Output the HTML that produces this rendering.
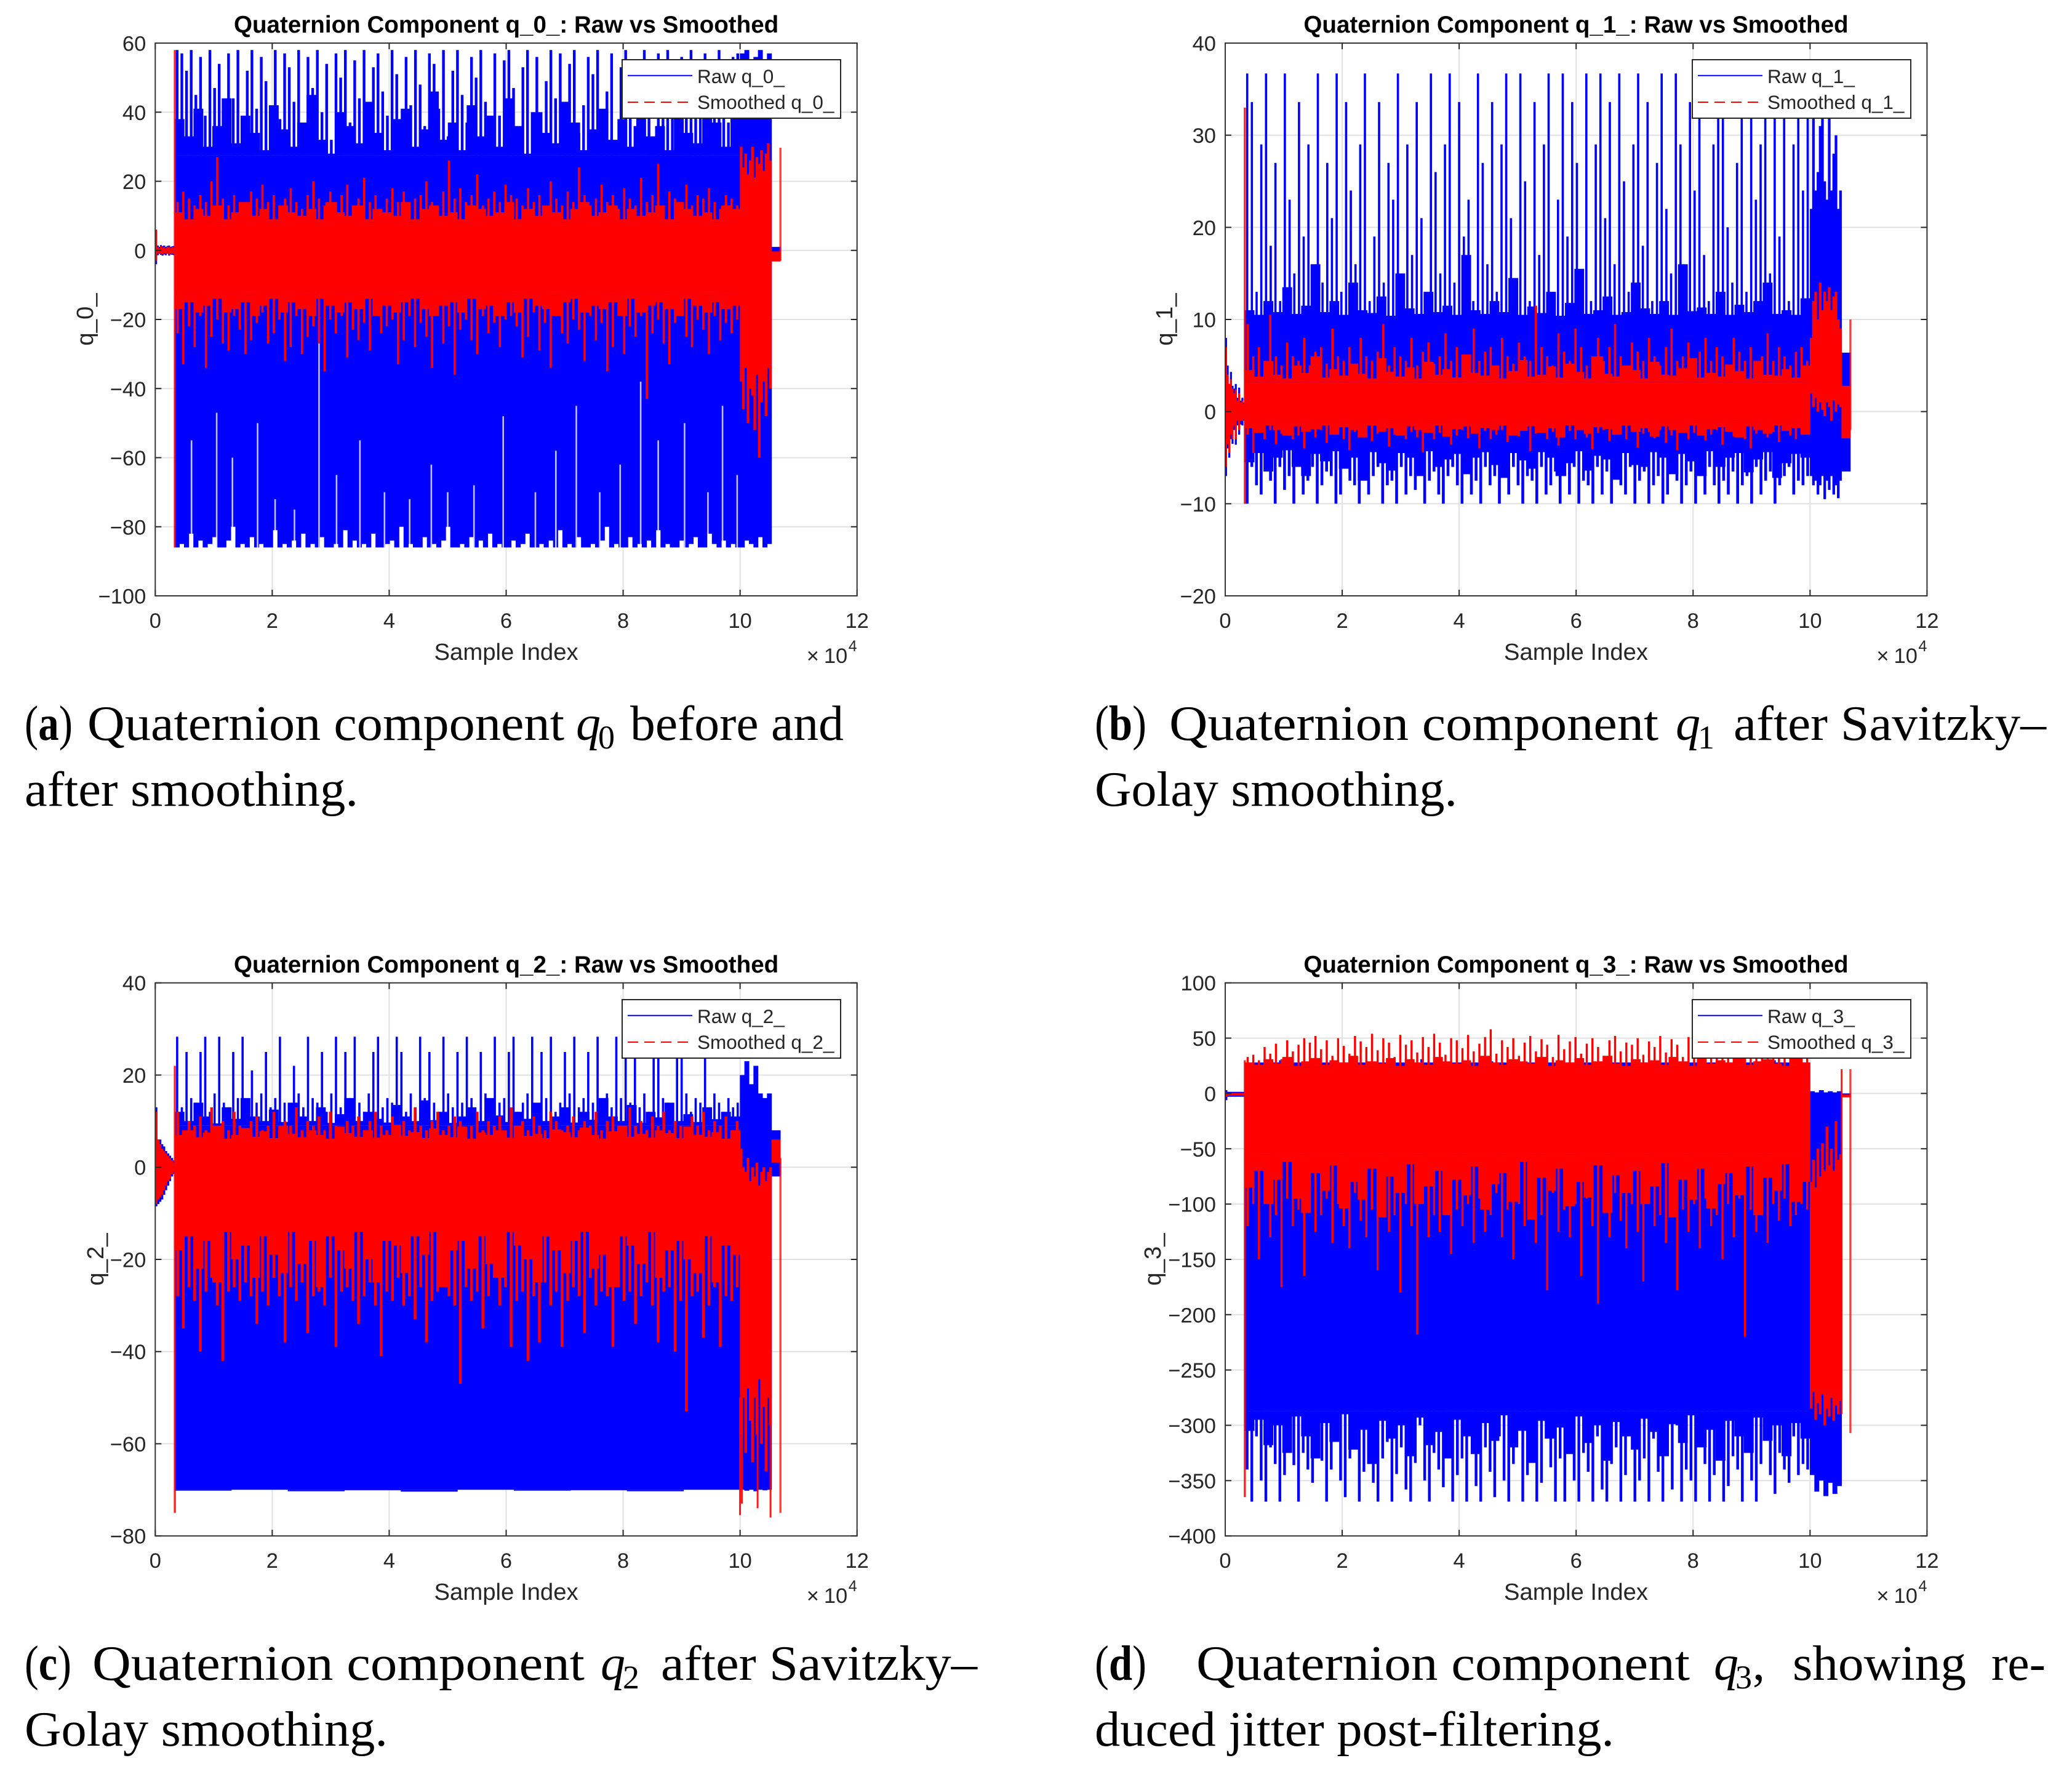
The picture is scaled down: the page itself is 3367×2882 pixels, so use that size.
<!DOCTYPE html>
<html lang="en">
<head>
<meta charset="utf-8">
<title>Quaternion components: raw vs smoothed</title>
<style>
html,body{margin:0;padding:0;background:#fff;width:3367px;height:2882px;overflow:hidden}
svg{position:absolute;left:0;top:0;display:block}
.sans{font-family:"Liberation Sans",Arial,sans-serif;fill:#262626}
.title{font-family:"Liberation Sans",Arial,sans-serif;font-size:38.6px;font-weight:bold;fill:#000;text-anchor:middle}
.axlab{font-size:38.3px;text-anchor:middle}
.leg{font-size:31.5px}
.cap{font-family:"Liberation Serif","Times New Roman",serif;font-size:80px;fill:#000}
.capi{font-family:"Liberation Serif","Times New Roman",serif;font-size:80px;font-style:italic;fill:#000}
.capsub{font-family:"Liberation Serif","Times New Roman",serif;font-size:54px;fill:#000}
</style>
</head>
<body>
<svg xmlns="http://www.w3.org/2000/svg" width="3367" height="2882" viewBox="0 0 3367 2882">

<g>
  <text class="title" x="822.6" y="53">Quaternion Component q_0_: Raw vs Smoothed</text>
  <g id="plot-q0"></g>
  <text class="sans axlab" x="822.6" y="1072">Sample Index</text>
  <text class="sans axlab" x="151" y="519" transform="rotate(-90 151 519)">q_0_</text>
  <g>
    <rect x="1011" y="97" width="355" height="95" fill="#fff" stroke="#262626" stroke-width="2"/>
    <line x1="1020" x2="1125" y1="122.7" y2="122.7" stroke="#0000ff" stroke-width="2"/>
    <line x1="1020" x2="1125" y1="166" y2="166" stroke="#ff0000" stroke-width="2" stroke-dasharray="17 10"/>
    <text class="sans leg" x="1133" y="135">Raw q_0_</text>
    <text class="sans leg" x="1133" y="177">Smoothed q_0_</text>
  </g>
</g>

<g>
  <text class="title" x="2561" y="53">Quaternion Component q_1_: Raw vs Smoothed</text>
  <g id="plot-q1"></g>
  <text class="sans axlab" x="2561" y="1072">Sample Index</text>
  <text class="sans axlab" x="1905" y="519" transform="rotate(-90 1905 519)">q_1_</text>
  <g>
    <rect x="2750" y="97" width="355" height="95" fill="#fff" stroke="#262626" stroke-width="2"/>
    <line x1="2759" x2="2864" y1="122.7" y2="122.7" stroke="#0000ff" stroke-width="2"/>
    <line x1="2759" x2="2864" y1="166" y2="166" stroke="#ff0000" stroke-width="2" stroke-dasharray="17 10"/>
    <text class="sans leg" x="2872" y="135">Raw q_1_</text>
    <text class="sans leg" x="2872" y="177">Smoothed q_1_</text>
  </g>
</g>

<g>
  <text class="title" x="822.6" y="1580">Quaternion Component q_2_: Raw vs Smoothed</text>
  <g id="plot-q2"></g>
  <text class="sans axlab" x="822.6" y="2599">Sample Index</text>
  <text class="sans axlab" x="168" y="2046" transform="rotate(-90 168 2046)">q_2_</text>
  <g>
    <rect x="1011" y="1624" width="355" height="95" fill="#fff" stroke="#262626" stroke-width="2"/>
    <line x1="1020" x2="1125" y1="1649.7" y2="1649.7" stroke="#0000ff" stroke-width="2"/>
    <line x1="1020" x2="1125" y1="1693" y2="1693" stroke="#ff0000" stroke-width="2" stroke-dasharray="17 10"/>
    <text class="sans leg" x="1133" y="1662">Raw q_2_</text>
    <text class="sans leg" x="1133" y="1704">Smoothed q_2_</text>
  </g>
</g>

<g>
  <text class="title" x="2561" y="1580">Quaternion Component q_3_: Raw vs Smoothed</text>
  <g id="plot-q3"></g>
  <text class="sans axlab" x="2561" y="2599">Sample Index</text>
  <text class="sans axlab" x="1886" y="2046" transform="rotate(-90 1886 2046)">q_3_</text>
  <g>
    <rect x="2750" y="1624" width="355" height="95" fill="#fff" stroke="#262626" stroke-width="2"/>
    <line x1="2759" x2="2864" y1="1649.7" y2="1649.7" stroke="#0000ff" stroke-width="2"/>
    <line x1="2759" x2="2864" y1="1693" y2="1693" stroke="#ff0000" stroke-width="2" stroke-dasharray="17 10"/>
    <text class="sans leg" x="2872" y="1662">Raw q_3_</text>
    <text class="sans leg" x="2872" y="1704">Smoothed q_3_</text>
  </g>
</g>

<g>
  <text class="cap" x="40" y="1202" textLength="78" lengthAdjust="spacingAndGlyphs">(<tspan font-weight="bold">a</tspan>)</text>
  <text class="cap" x="142" y="1202" textLength="775" lengthAdjust="spacingAndGlyphs">Quaternion component</text>
  <text class="capi" x="936" y="1202">q</text>
  <text class="capsub" x="972" y="1216">0</text>
  <text class="cap" x="1024" y="1202" textLength="347" lengthAdjust="spacingAndGlyphs">before and</text>
  <text class="cap" x="40" y="1309" textLength="542" lengthAdjust="spacingAndGlyphs">after smoothing.</text>
</g>
<g>
  <text class="cap" x="1779" y="1202" textLength="84" lengthAdjust="spacingAndGlyphs">(<tspan font-weight="bold">b</tspan>)</text>
  <text class="cap" x="1900" y="1202" textLength="795" lengthAdjust="spacingAndGlyphs">Quaternion component</text>
  <text class="capi" x="2723" y="1202">q</text>
  <text class="capsub" x="2759" y="1216">1</text>
  <text class="cap" x="2817" y="1202" textLength="508" lengthAdjust="spacingAndGlyphs">after Savitzky–</text>
  <text class="cap" x="1779" y="1309" textLength="589" lengthAdjust="spacingAndGlyphs">Golay smoothing.</text>
</g>
<g>
  <text class="cap" x="40" y="2729" textLength="76" lengthAdjust="spacingAndGlyphs">(<tspan font-weight="bold">c</tspan>)</text>
  <text class="cap" x="150" y="2729" textLength="800" lengthAdjust="spacingAndGlyphs">Quaternion component</text>
  <text class="capi" x="976" y="2729">q</text>
  <text class="capsub" x="1012" y="2743">2</text>
  <text class="cap" x="1074" y="2729" textLength="514" lengthAdjust="spacingAndGlyphs">after Savitzky–</text>
  <text class="cap" x="40" y="2836" textLength="590" lengthAdjust="spacingAndGlyphs">Golay smoothing.</text>
</g>
<g>
  <text class="cap" x="1779" y="2729" textLength="84" lengthAdjust="spacingAndGlyphs">(<tspan font-weight="bold">d</tspan>)</text>
  <text class="cap" x="1944" y="2729" textLength="802" lengthAdjust="spacingAndGlyphs">Quaternion component</text>
  <text class="capi" x="2785" y="2729">q</text>
  <text class="capsub" x="2820" y="2743">3</text>
  <text class="cap" x="2848" y="2729">,</text>
  <text class="cap" x="2913" y="2729" textLength="282" lengthAdjust="spacingAndGlyphs">showing</text>
  <text class="cap" x="3236" y="2729" textLength="88" lengthAdjust="spacingAndGlyphs">re-</text>
  <text class="cap" x="1779" y="2836" textLength="844" lengthAdjust="spacingAndGlyphs">duced jitter post-filtering.</text>
</g>
</svg>

<script>
/* Shared axis values (x in units of 10^4 samples) */
const xTicks = [0, 2, 4, 6, 8, 10, 12];
const sampleBreaks = [0, 0.335, 10, 10.54, 10.69];

/* ---------- q_0_ ---------- */
const q0YTicks = [-100, -80, -60, -40, -20, 0, 20, 40, 60];
const q0StartRawHi = [6, 1.4, 1, 1.5, 1.2, 1.4, 1, 1.3, 1.4, 1, 1.2, 1.3];
const q0StartRawLo = [-4, -1.4, -1, -1.3, -1.5, -1.2, -1.4, -1, -1.5, -1.2, -1.3, -1.4];
const q0StartSmoothHi = [6, 1, 0.6, 1.2, 0.8, 1, 0.6, 1, 1.1, 0.7, 1, 0.9];
const q0StartSmoothLo = [-3, -1, -0.7, -1, -1.2, -0.8, -1, -0.7, -1.2, -0.9, -1, -1];
const q0RawCore = [27.5, -20];
const q0RawUpper = [58,57,52,58,45,56,39,58,47,54,33,57,44,58,36,52,58,41,56,49,31,58,38,57,53,43,58,35,56,47,58,40,54,32,57,50,58,37,55,44,58,34,53,57,46,39,58,51,30,56,42,58,48,36,57,54,41,58,33,52,58,45,37,56,50,58,43,31,57,39,55,58,47,35,53,58,40,56,32,49,58,44,57,37,54,58,34,42,56,51,58,38,46,57,31,53,58,43,36,55,58,48,33,57,41,58,52,35,56,45,58,39,54,57,32,47,58,50,37,56,57];
const q0RawMidUp = [38,33,41,30,36,44,31,39,34,29,42,35,30,37,45,32,28,40,36,31,43,34,29,38,41,30,35,46,32,37,29,42,33,39,30,44,36,28,40,34,31,43,37,29,35,41,32,38,30,45,33,36,29,42,34,31,39,37,30,40];
const q0RawLower = [-86,-85,-86,-82,-86,-84,-86,-85,-83,-86,-86,-84,-80,-86,-85,-86,-83,-86,-85,-86,-86,-81,-86,-85,-86,-84,-86,-82,-86,-85,-86,-83,-86,-86,-85,-86,-81,-86,-84,-86,-85,-86,-82,-86,-86,-85,-84,-86,-80,-86,-85,-86,-86,-83,-86,-85,-86,-84,-80,-86,-86,-85,-86,-83,-86,-84,-86,-82,-86,-85,-86,-86,-84,-86,-85,-82,-86,-86,-85,-86,-84,-86,-81,-86,-85,-86,-83,-86,-86,-85,-86,-84,-80,-86,-85,-86,-86,-83,-86,-85,-86,-84,-86,-81,-86,-85,-86,-86,-84,-86,-85,-83,-86,-86,-82,-85,-86,-84,-86,-85,-86];
const q0GapIndex = [0.62,1.05,1.32,1.75,2.05,2.38,2.8,3.1,3.5,3.92,4.35,4.72,5.0,5.45,5.95,6.5,6.85,7.2,7.6,7.95,8.3,8.6,9.05,9.45,9.7,9.95];
const q0GapTop = [-55,-47,-60,-50,-72,-75,-4,-65,-55,-70,-72,-62,-70,-68,-48,-70,-58,-45,-70,-62,-38,-55,-50,-70,-45,-65];
const q0SmoothCore = [8, -13];
const q0SmoothUpper = [14,17,15,13,16,14,20,27,15,13,16,14,12,17,15,19,14,16,13,15,18,14,12,16,20,15,13,17,14,16,19,13,15,21,14,16,12,15,18,14,17,13,15,16,20,14,13,17,26,15,18,14,16,22,13,15,17,14,19,16,15,13,18,14,16,12,20,15,13,17,14,24,16,13,15,19,14,16,12,18,15,13,21,14,16,25,13,17,15,14,19,13,16,15,18,14,12,16,15,13];
const q0SmoothMidUp = [11,9,12,10,13,9,11,14,10,12,9,13,11,10,12,9,14,11,10,13,9,12,11,10,14,9,12,13,10,11,9,13,12,10,11,14,9,12,10,13,11,9,12,14,10,11,13,9,12,10,11,13,9,14,12,10,11,9,13,12];
const q0SmoothMidLo = [-17,-15,-18,-16,-14,-18,-17,-15,-19,-16,-14,-18,-15,-17,-19,-14,-16,-18,-15,-17,-14,-19,-16,-18,-15,-14,-17,-19,-16,-15,-18,-14,-17,-16,-19,-15,-18,-14,-16,-17,-19,-15,-14,-18,-16,-17,-15,-19,-14,-18,-16,-15,-17,-19,-14,-16,-18,-15,-17,-16];
const q0SmoothLower = [-24,-33,-22,-28,-19,-34,-25,-20,-27,-29,-19,-23,-30,-26,-21,-18,-27,-24,-20,-32,-28,-19,-30,-25,-22,-27,-35,-20,-24,-19,-31,-23,-26,-21,-29,-19,-24,-22,-20,-33,-26,-19,-28,-21,-25,-34,-19,-27,-22,-36,-23,-20,-26,-30,-19,-24,-21,-28,-20,-19,-22,-31,-25,-18,-29,-21,-34,-19,-24,-27,-20,-23,-32,-19,-26,-21,-35,-28,-19,-30,-22,-25,-19,-43,-24,-20,-27,-33,-21,-19,-25,-28,-20,-23,-30,-19,-26,-21,-24,-20];
const q0TailRawHi = [57,58,55,56,58,54,57];
const q0TailRawLo = [-86,-84,-85,-86,-83,-86,-85];
const q0TailSmoothHi = [30,24,28,22,26,30,21,27,25,29,23,28,31,26];
const q0TailSmoothLo = [-38,-46,-34,-50,-40,-42,-52,-36,-60,-44,-38,-48,-34,-40];
const q0EndRaw = [1, -3];
const q0EndSmooth = [-0.3, -3.2];
const q0OnsetSpike = [58, -86];
const q0EndSpike = [29.7, -3];

/* ---------- q_1_ ---------- */
const q1YTicks = [-20, -10, 0, 10, 20, 30, 40];
const q1StartRawHi = [8, 5, 3, 4.3, 2.8, 2.5, 3, 1.5, 2.6, 1.2, 1.5, 1];
const q1StartRawLo = [-7, -4, -5, -3, -3.5, -2, -3.6, -1.5, -2.5, -1.4, -1.5, -1];
const q1StartSmoothHi = [7, 4, 3, 3.5, 2.5, 2, 2.4, 1.2, 2, 1, 1.2, 0.8];
const q1StartSmoothLo = [-6, -3.5, -4.5, -2.5, -3, -1.5, -3, -1, -2, -1, -1, -0.8];
const q1RawCore = [9.5, -3.8];
const q1RawUpper = [36.7,33.6,13,29,36.7,18,27,12,36.7,23,15,33.6,19,29,12,36.7,14,27,21,36.7,13,33.6,24,16,29,36.7,12,19,33.6,14,27,23,36.7,13,29,17,33.6,21,12,36.7,26,15,29,36.7,14,33.6,19,23,12,36.7,27,16,33.6,13,29,36.7,21,14,36.7,25,12,33.6,17,29,36.7,13,23,36.7,19,33.6,27,14,36.7,12,29,36.7,21,33.6,16,36.7,25,13,29,36.7,18,33.6,12,27,36.7,22,15,36.7,29,13,33.6,24,36.7,17,12,29,33.6,36.7,20,14,27,36.7,13,33.6,23,29,36.7,15,33.6,19,36.7,12,29,33.6,24,33.6];
const q1RawMidUp = [11,10.5,12,10.8,13.5,10.6,11.5,16,10.8,12,10.5,14,11,10.7,12.5,10.4,15,11.2,10.6,13,10.8,11.5,10.5,17,11,10.6,12,10.8,14.5,10.5,11.4,10.7,13,10.4,11.8,15.5,10.6,11,12.5,10.5,10.8,14,11.2,10.6,12,10.5,16,10.9,11.3,10.6,13,10.5,11.6,10.8,12,14,10.6,11,10.5,12.3];
const q1RawMidLo = [-5.5,-4.5,-6.5,-5,-4.2,-6,-7,-4.6,-5.4,-4.3,-6.2,-5,-7.5,-4.4,-5.6,-6.4,-4.5,-5,-7,-4.3,-6,-5.2,-4.6,-6.8,-5,-4.4,-5.8,-7.2,-4.5,-5.3,-6.2,-4.4,-5,-7,-5.6,-4.3,-6.4,-4.8,-5.2,-7.4,-4.5,-5.8,-6,-4.4,-5,-6.8,-4.6,-5.4,-7,-4.3,-6,-5,-4.5,-6.6,-5.2,-4.4,-7.2,-5.6,-4.6,-5];
const q1RawLower = [-10,-6,-8,-9,-6.5,-7.5,-10,-6,-8.5,-7,-10,-6,-9,-7.5,-6,-10,-8,-6.5,-7,-10,-9,-6,-7.5,-8,-10,-6.5,-9,-7,-6,-10,-8,-7.5,-10,-6,-9,-7,-8.5,-6,-10,-7.5,-6.5,-9,-10,-7,-6,-8,-10,-6.5,-9,-7.5,-10,-6,-8,-7,-10,-6.5,-9,-6,-8,-10,-7,-7.5,-10,-6,-9,-8,-6.5,-10,-7,-9,-6,-10,-7.5,-8,-10,-6,-9,-6.5,-10,-7,-8,-9,-6,-10,-7.5,-6.5,-10,-8,-7,-10,-9,-6,-7.5,-10,-8,-6.5,-10,-7,-9,-6,-8,-10,-7.5,-9,-6.5,-10,-8,-7,-10,-6,-9,-7.5,-6.5,-10,-8,-7,-6,-9,-7.5,-8,-7];
const q1SmoothCore = [3.2, -1.2];
const q1SmoothUpper = [9.5,6,7,5.5,10.5,6,5,7.5,6,5.5,8,5,6.5,7,5.2,9,6,5.5,7,5,8,6,5.5,6.5,9.5,5,7,6,5.5,8,5,6.5,7.5,5.2,6,8.5,5.5,7,5,6,9,5.5,6.5,7,5,8,6,5.2,7.5,6,5.5,11.5,7,6,5,8.5,6.5,5.5,9,7,5,6,8,5.5,7,9.5,6,5,7.5,6.5,5.5,8,6,5,7,9,5.5,6,7.5,5,6.5,8,5.5,7,6,5,8,6.5,5.5,7,5.2,6,8.5,5.5,7,6,5,6.5,7,5.5];
const q1SmoothMidUp = [4.5,3.8,5.5,4,3.6,5,4.2,6,3.7,4.6,3.9,5.2,4.1,3.6,5.8,4.3,3.8,4.8,3.6,5.4,4,4.6,3.7,6.2,4.2,3.9,5,3.6,4.4,5.6,3.8,4,4.9,3.7,5.2,4.3,3.6,6,4.1,3.8,5,4.5,3.6,5.4,4,3.9,4.7,5.8,3.7,4.2,3.8,5.1,4.4,3.6,5.5,4,3.9,4.6,3.7,5];
const q1SmoothMidLo = [-1.8,-2.3,-1.5,-2,-2.6,-1.6,-2.2,-1.9,-1.5,-2.5,-1.7,-2,-2.8,-1.5,-2.2,-1.8,-2.6,-1.6,-2,-2.3,-1.5,-2.7,-1.9,-1.6,-2.4,-1.8,-2,-1.5,-2.6,-2.1,-1.6,-2.3,-1.8,-2.8,-1.5,-2,-2.4,-1.7,-1.9,-2.5,-1.5,-2.2,-1.8,-2.7,-1.6,-2,-2.3,-1.5,-2.6,-1.9,-1.7,-2.2,-2.8,-1.6,-2,-2.4,-1.5,-2.1,-1.8,-2.5];
const q1SmoothLower = [-2.5,-4.5,-2.2,-3,-2,-3.5,-2.4,-2,-3,-2.6,-4,-2.1,-2.8,-2,-3.4,-2.3,-2,-3,-4.2,-2.2,-2.7,-2,-3.2,-2.4,-2.1,-3.8,-2.5,-2,-3,-2.2,-2.8,-4.4,-2,-3,-2.3,-2.1,-3.6,-2.6,-2,-2.9,-2.2,-4,-2.1,-3,-2.5,-2,-3.3,-2.2,-2.7,-2,-4.3,-2.4,-2,-3,-2.2,-3.7,-2.6,-2.1,-3,-2,-2.8,-4.1,-2.3,-2,-3.2,-2.5,-2.1,-3,-2,-3.9,-2.4,-2.2,-2.9,-2,-3.4,-2.6,-4.2,-2.1,-3,-2.3,-2,-3.1,-2.5,-2,-3.6,-2.2,-2.7,-2.1,-3,-4,-2.4,-2,-2.8,-2.2,-3.3,-2,-2.6,-3,-2.3,-2.1];
const q1TailRawHi = [22,33,24,26,31,36.7,25,23,33,24,28,30,22,24];
const q1TailRawLo = [-7,-8,-7.5,-9,-8,-7,-9.5,-7.5,-8.5,-7,-9,-8,-9.4,-7.5];
const q1TailSmoothHi = [8,12,13,10,14,11,13,12,13.5,11,12.5,13,10,9];
const q1TailSmoothLo = [2,0.5,1.5,0,1,0.2,-0.5,1,0.5,-1,1.2,0,0.8,0.5];
const q1EndRaw = [6.4, -6.5];
const q1EndSmooth = [2.8, -2.9];
const q1OnsetSpike = [33, -10];
const q1EndSpike = [10, -2];

/* ---------- q_2_ ---------- */
const q2YTicks = [-80, -60, -40, -20, 0, 20, 40];
const q2StartRawHi = [13, 6, 6, 5, 4.5, 3.5, 3, 2.5, 2, 1.5];
const q2StartRawLo = [-8.5, -8, -7.5, -7, -6, -5, -4, -3, -2, -1.5];
const q2StartSmoothHi = [12, 6, 5, 4, 3.5, 3, 2.5, 2, 1.5, 1];
const q2StartSmoothLo = [-8, -7, -6.5, -6, -5, -4, -3, -2.5, -1.5, -1];
const q2RawCore = [9, -70];
const q2RawUpper = [28.3,13,25,15,14,25,28.3,12,16,28.3,14,13,25,15,28.3,12,21,14,16,25,13,15,28.3,14,12,22,16,13,28.3,15,14,25,12,16,28.3,13,25,15,28.3,14,12,16,25,28.3,13,15,14,28.3,25,12,16,13,28.3,15,25,14,12,28.3,16,13,25,14,28.3,15,12,25,16,13,28.3,14,15,25,28.3,12,14,16,28.3,13,25,15,28.3,12,14,25,16,28.3,13,15,25,14,28.3,12,16,13,28.3,15,25,14,28.3,13,16,12,25,28.3,15,14,13,28.3,25,16,12,15,14,25,13,16,14,12,15,13,14];
const q2RawMidUp = [12,10,14,11,9.5,13,10.5,15,11,10,12.5,9.8,14,11,10,13,9.6,11.5,15,10,12,10.5,9.7,13.5,11,10,14.5,10.2,12,9.6,11,13,10,15,11.2,9.8,12,10.5,14,10,11,13,9.7,12,10.3,15,11,10,13.5,9.6,12,10.8,14,10,11.5,9.8,13,10.4,12,11];
const q2RawLower = [-70.2,-70,-70.3,-70.1,-70.4,-70,-70.2,-70.1,-70.3,-70];
const q2SmoothCore = [5.5, -13];
const q2SmoothUpper = [12,8,10,9,11,8,13,9,10,8,12,9,8,10,11,8,9,12,8,10,9,13,8,10,9,11,8,12,9,8,10,9,11,8,10,12,9,8,11,9,10,8,13,9,8,10,12,8,9,11,10,8,9,12,8,10,9,11,8,13,9,10,8,11,9,8,12,10,8,9,11,8,10,9,12,8,10,11,9,8,13,9,10,8,11,9,12,8,10,9,8,11,9,12,8,10,9,11,8,10];
const q2SmoothMidUp = [7,8,6.5,7.5,9,6.2,7,8.5,6.6,7.8,6.3,9,7.2,6.5,8,7,6.2,8.8,7.4,6.6,8,6.4,7,9.2,6.8,7.6,6.3,8.4,7,6.5,8.8,6.2,7.5,7,8,6.4,9,6.8,7.2,6.3,8.2,7.6,6.5,8.6,7,6.2,7.8,9,6.6,7.2,6.4,8,7.4,6.3,8.8,7,6.6,7.6,6.2,8];
const q2SmoothMidLo = [-18,-15,-22,-16,-25,-14,-20,-17,-24,-15,-19,-23,-14,-21,-16,-26,-15,-18,-22,-14,-20,-25,-16,-17,-23,-15,-19,-14,-26,-18,-16,-22,-15,-21,-24,-14,-17,-20,-25,-15,-18,-23,-16,-14,-22,-19,-26,-15,-17,-21,-14,-24,-18,-16,-20,-23,-15,-25,-17,-19];
const q2SmoothLower = [-28,-35,-26,-29,-40,-27,-24,-30,-42,-27,-26,-29,-25,-28,-34,-27,-30,-24,-28,-38,-26,-29,-25,-36,-28,-27,-30,-24,-39,-27,-26,-29,-34,-28,-25,-30,-41,-27,-29,-24,-30,-28,-33,-26,-38,-29,-27,-24,-28,-30,-47,-26,-29,-27,-35,-28,-24,-30,-26,-39,-29,-27,-42,-28,-38,-25,-30,-27,-39,-29,-26,-28,-36,-24,-30,-27,-28,-39,-26,-29,-27,-34,-28,-25,-30,-38,-27,-26,-40,-29,-53,-28,-27,-37,-30,-26,-39,-28,-29,-26];
const q2TailRawHi = [20,23,18,22,16,15,16];
const q2TailRawLo = [-70,-70.2,-70,-70.3,-70,-70.1,-70];
const q2TailSmoothHi = [4,0,-1,2,-3,0,-2,1,-4,-1,0,-3,-1,0];
const q2TailSmoothLo = [-58,-50,-62,-48,-55,-64,-50,-58,-46,-60,-52,-66,-50,-56];
const q2EndRaw = [8, -2];
const q2EndSmooth = [6, 1];
const q2OnsetSpike = [22, -75];
const q2EndSpike = [2, -75];
const q2ExtraSpikeIndex = [10.0, 10.03, 10.3, 10.52];
const q2ExtraSpikeLow = [-75.5, -73, -74, -76];

/* ---------- q_3_ ---------- */
const q3YTicks = [-400, -350, -300, -250, -200, -150, -100, -50, 0, 50, 100];
const q3StartRawHi = [3, 1.5, 1.5, 1.5, 1.5, 1.5, 1.5, 1.5, 1.5, 1.5];
const q3StartRawLo = [-6, -3, -3, -3, -3, -3, -3, -3, -3, -3];
const q3StartSmoothHi = [1, 0.5, 0.5, 0.5, 0.5, 0.5, 0.5, 0.5, 0.5, 0.5];
const q3StartSmoothLo = [-3, -2, -2, -2, -2, -2, -2, -2, -2, -2];
const q3RawCore = [28, -287];
const q3RawUpper = [30,29,31,29,30,31,29,30];
const q3RawMidLo = [-305,-295,-318,-300,-325,-292,-310,-330,-298,-315,-290,-322,-304,-335,-296,-312,-300,-328,-293,-318,-306,-330,-295,-310,-326,-298,-314,-291,-320,-305,-334,-296,-312,-302,-326,-292,-316,-300,-332,-297,-310,-322,-294,-306,-328,-299,-316,-291,-320,-304,-332,-296,-310,-325,-293,-314,-300,-328,-298,-312];
const q3RawLower = [-340,-369,-310,-350,-369,-320,-335,-369,-345,-300,-336,-369,-325,-340,-352,-296,-332,-369,-340,-305,-350,-365,-330,-310,-369,-342,-300,-352,-369,-330,-315,-369,-344,-320,-358,-369,-334,-300,-350,-369,-325,-340,-356,-310,-369,-345,-330,-369,-300,-355,-369,-320,-342,-365,-310,-350,-369,-335,-298,-369,-345,-322,-369,-352,-312,-338,-369,-330,-369,-300,-350,-369,-325,-342,-369,-310,-358,-369,-335,-320,-369,-345,-300,-369,-350,-330,-369,-312,-342,-369,-325,-358,-300,-369,-340,-350,-369,-318,-335,-369,-345,-305,-369,-355,-328,-340,-369,-312,-350,-369,-335,-300,-345,-362,-325,-340,-352,-310,-345,-335,-340];
const q3SmoothCore = [24, -55];
const q3SmoothUpper = [33,35,30,42,36,45,31,48,38,44,50,46,52,40,48,34,50,43,36,52,47,42,54,39,50,46,33,53,44,48,37,51,42,54,46,35,50,48,41,53,38,45,51,58,36,48,42,50,34,46,52,38,49,44,33,53,40,47,51,36,45,50,42,34,48,52,38,46,44,50,35,47,42,52,37,49,44,33,51,46,40,48,35,52,43,37,50,45,33,48,41,50,38,46,34,44,49,36,42,32];
const q3SmoothMidUp = [28,26,31,27,33,25,29,32,26,30,28,34,26,29,27,32,25,31,28,26,33,29,27,30,25,34,28,26,31,29,27,33,25,30,28,32,26,29,34,27,25,31,28,30,26,33,29,25,32,27,30,28,34,26,29,31,27,25,33,28];
const q3SmoothMidLo = [-85,-70,-100,-78,-62,-95,-108,-72,-88,-65,-104,-80,-96,-68,-112,-75,-90,-64,-100,-84,-70,-110,-78,-92,-66,-105,-82,-72,-98,-62,-114,-76,-88,-68,-102,-80,-94,-65,-108,-74,-90,-70,-100,-84,-63,-112,-78,-96,-68,-104,-82,-72,-92,-66,-110,-76,-88,-64,-98,-80];
const q3SmoothLower = [-120,-100,-150,-90,-130,-110,-175,-95,-120,-105,-165,-85,-125,-110,-95,-135,-100,-120,-140,-90,-115,-130,-105,-160,-95,-125,-110,-180,-100,-120,-218,-95,-130,-110,-125,-90,-145,-105,-120,-100,-135,-95,-125,-110,-90,-130,-105,-150,-100,-120,-95,-135,-110,-178,-90,-125,-105,-130,-100,-165,-95,-120,-190,-105,-130,-90,-115,-140,-100,-125,-170,-95,-120,-110,-135,-90,-178,-105,-125,-100,-140,-95,-120,-110,-150,-100,-130,-95,-220,-105,-125,-90,-135,-100,-115,-95,-120,-110,-100,-105];
const q3TailRawHi = [2,1,3,1,2,1,2];
const q3TailRawLo = [-345,-360,-350,-364,-352,-362,-355];
const q3TailSmoothHi = [-80,-60,-85,-50,-75,-45,-70,-30,-65,-50,-70,-25,-60,-55];
const q3TailSmoothLo = [-285,-270,-295,-280,-290,-272,-300,-285,-292,-275,-296,-282,-290,-278];
const q3EndRaw = [0, -3];
const q3EndSmooth = [-1, -3.5];
const q3OnsetSpike = [30, -365];
const q3EndSpike = [22, -307];
const q3ExtraSpikeIndex = [10.54];
const q3ExtraSpikeLow = [-290];

/* ---------- Panel layout ---------- */
const layouts = {
  q0: {left: 252.3, right: 1392.7, top: 70, bottom: 968, yMin: -100, yMax: 60},
  q1: {left: 1991, right: 3131.4, top: 70, bottom: 968, yMin: -20, yMax: 40},
  q2: {left: 252.3, right: 1392.7, top: 1596.7, bottom: 2495.2, yMin: -80, yMax: 40},
  q3: {left: 1991, right: 3131.4, top: 1596.7, bottom: 2495.2, yMin: -400, yMax: 100}
};

const NS = 'http://www.w3.org/2000/svg';

function makeX(L) { return v => L.left + v * (L.right - L.left) / 12; }
function makeY(L) { return v => L.bottom - (v - L.yMin) * (L.bottom - L.top) / (L.yMax - L.yMin); }

function addPath(g, name, d, color, width, opacity) {
  const p = document.createElementNS(NS, 'path');
  p.setAttribute('d', d);
  p.setAttribute('fill', 'none');
  p.setAttribute('stroke', color);
  p.setAttribute('stroke-width', width);
  if (opacity) p.setAttribute('stroke-opacity', opacity);
  
  
  g.appendChild(p);
}

/* Binned min/max marks: hi and lo are arrays or a single value */
function bars(g, name, xS, yS, from, to, hi, lo, color, width, opacity) {
  const n = Array.isArray(hi) ? hi.length : lo.length;
  const step = (xS(to) - xS(from)) / n;
  let d = '';
  for (let i = 0; i < n; i++) {
    const x = xS(from) + (i + 0.5) * step;
    const h = Array.isArray(hi) ? hi[i] : hi;
    const l = Array.isArray(lo) ? lo[i] : lo;
    d += 'M' + x.toFixed(1) + ' ' + yS(h).toFixed(1) + 'V' + yS(l).toFixed(1);
  }
  addPath(g, name, d, color, width === null ? (step + 0.6).toFixed(2) : width, opacity);
}

function addText(g, name, x, y, str, size, anchor) {
  const t = document.createElementNS(NS, 'text');
  t.setAttribute('class', 'sans');
  t.setAttribute('x', x);
  t.setAttribute('y', y);
  t.setAttribute('font-size', size);
  t.setAttribute('text-anchor', anchor);
  
  
  t.textContent = str;
  g.appendChild(t);
}

function drawPanel(key, yTicks, s) {
  const L = layouts[key];
  const g = document.getElementById('plot-' + key);
  const xS = makeX(L), yS = makeY(L);
  const b = sampleBreaks;

  let grid = '';
  xTicks.forEach(v => { if (v > 0 && v < 12) grid += 'M' + xS(v) + ' ' + L.top + 'V' + L.bottom; });
  yTicks.forEach(v => { if (v > L.yMin && v < L.yMax) grid += 'M' + L.left + ' ' + yS(v) + 'H' + L.right; });
  addPath(g, 'grid-lines-' + key, grid, '#e1e1e1', 2);

  const BLUE = '#0000ff', RED = '#ff0000';
  /* raw series */
  bars(g, 'raw-startup-' + key, xS, yS, b[0], b[1], s.startRawHi, s.startRawLo, BLUE, null);
  bars(g, 'raw-upper-spikes-' + key, xS, yS, b[1], b[2], s.rawUpper, s.rawCore[0], BLUE, s.upperWidth);
  bars(g, 'raw-lower-band-' + key, xS, yS, b[1], b[2], s.rawCore[1], s.rawLower, BLUE, s.lowerWidth);
  if (s.rawMidUp) bars(g, 'raw-dense-upper-' + key, xS, yS, b[1], b[2], s.rawMidUp, s.rawCore[0], BLUE, null);
  if (s.rawMidLo) bars(g, 'raw-dense-lower-' + key, xS, yS, b[1], b[2], s.rawCore[1], s.rawMidLo, BLUE, null);
  bars(g, 'raw-core-band-' + key, xS, yS, b[1], b[2], [s.rawCore[0]], [s.rawCore[1]], BLUE, null);
  bars(g, 'raw-tail-' + key, xS, yS, b[2], b[3], s.tailRawHi, s.tailRawLo, BLUE, null);
  bars(g, 'raw-end-' + key, xS, yS, b[3], b[4], [s.endRaw[0]], [s.endRaw[1]], BLUE, null);
  if (s.gapIndex) {
    let gaps = '';
    s.gapIndex.forEach((v, i) => { gaps += 'M' + xS(v).toFixed(1) + ' ' + yS(s.gapTop[i]).toFixed(1) + 'V' + yS(s.rawLowerLimit).toFixed(1); });
    addPath(g, 'raw-white-gaps-' + key, gaps, '#ffffff', 2.6, 0.75);
  }
  /* smoothed series */
  bars(g, 'smoothed-startup-' + key, xS, yS, b[0], b[1], s.startSmoothHi, s.startSmoothLo, RED, null);
  bars(g, 'smoothed-upper-' + key, xS, yS, b[1], b[2], s.smoothUpper, s.smoothCore[0], RED, s.smoothWidth);
  bars(g, 'smoothed-lower-' + key, xS, yS, b[1], b[2], s.smoothCore[1], s.smoothLower, RED, s.smoothWidth);
  bars(g, 'smoothed-dense-upper-' + key, xS, yS, b[1], b[2], s.smoothMidUp, s.smoothCore[0], RED, null);
  bars(g, 'smoothed-dense-lower-' + key, xS, yS, b[1], b[2], s.smoothCore[1], s.smoothMidLo, RED, null);
  bars(g, 'smoothed-core-band-' + key, xS, yS, b[1], b[2], [s.smoothCore[0]], [s.smoothCore[1]], RED, null);
  bars(g, 'smoothed-tail-' + key, xS, yS, b[2], b[3], s.tailSmoothHi, s.tailSmoothLo, RED, null);
  bars(g, 'smoothed-end-' + key, xS, yS, b[3], b[4], [s.endSmooth[0]], [s.endSmooth[1]], RED, null);
  addPath(g, 'smoothed-onset-spike-' + key, 'M' + xS(b[1]) + ' ' + yS(s.onset[0]) + 'V' + yS(s.onset[1]), RED, 3.4, 0.85);
  addPath(g, 'smoothed-end-spike-' + key, 'M' + xS(b[4]) + ' ' + yS(s.endSpike[0]) + 'V' + yS(s.endSpike[1]), RED, 3.4, 0.75);
  if (s.extraIndex) {
    let ex = '';
    s.extraIndex.forEach((v, i) => { ex += 'M' + xS(v).toFixed(1) + ' ' + yS(s.extraTop).toFixed(1) + 'V' + yS(s.extraLow[i]).toFixed(1); });
    addPath(g, 'smoothed-extra-spikes-' + key, ex, RED, 3, 0.9);
  }

  /* axes box and ticks */
  let ticks = '';
  xTicks.forEach(v => {
    ticks += 'M' + xS(v) + ' ' + L.bottom + 'v-10M' + xS(v) + ' ' + L.top + 'v10';
  });
  yTicks.forEach(v => {
    ticks += 'M' + L.left + ' ' + yS(v) + 'h10M' + L.right + ' ' + yS(v) + 'h-10';
  });
  addPath(g, 'axis-ticks-' + key, ticks, '#262626', 2);
  addPath(g, 'axes-box-' + key, 'M' + L.left + ' ' + L.top + 'H' + L.right + 'V' + L.bottom + 'H' + L.left + 'Z', '#333333', 2);

  xTicks.forEach(v => addText(g, 'x-tick-label-' + key, xS(v), L.bottom + 52, String(v), 34.5, 'middle'));
  yTicks.forEach(v => addText(g, 'y-tick-label-' + key, L.left - 15, yS(v) + 12.5, String(v).replace('-', '\u2212'), 34.5, 'end'));
  addText(g, 'x-axis-times-sign-' + key, L.right - 82, L.bottom + 109, '\u00d7', 34.5, 'start');
  addText(g, 'x-axis-multiplier-' + key, L.right - 15.5, L.bottom + 109, '10', 34.5, 'end');
  addText(g, 'x-axis-exponent-' + key, L.right, L.bottom + 90, '4', 25, 'end');
}

drawPanel('q0', q0YTicks, {startRawHi:q0StartRawHi,startRawLo:q0StartRawLo,startSmoothHi:q0StartSmoothHi,startSmoothLo:q0StartSmoothLo,rawCore:q0RawCore,rawUpper:q0RawUpper,rawMidUp:q0RawMidUp,rawLower:q0RawLower,gapIndex:q0GapIndex,gapTop:q0GapTop,rawLowerLimit:-87,smoothCore:q0SmoothCore,smoothUpper:q0SmoothUpper,smoothMidUp:q0SmoothMidUp,smoothMidLo:q0SmoothMidLo,smoothLower:q0SmoothLower,tailRawHi:q0TailRawHi,tailRawLo:q0TailRawLo,tailSmoothHi:q0TailSmoothHi,tailSmoothLo:q0TailSmoothLo,endRaw:q0EndRaw,endSmooth:q0EndSmooth,onset:q0OnsetSpike,endSpike:q0EndSpike,upperWidth:4.4,lowerWidth:null,smoothWidth:3.6});
drawPanel('q1', q1YTicks, {startRawHi:q1StartRawHi,startRawLo:q1StartRawLo,startSmoothHi:q1StartSmoothHi,startSmoothLo:q1StartSmoothLo,rawCore:q1RawCore,rawUpper:q1RawUpper,rawMidUp:q1RawMidUp,rawMidLo:q1RawMidLo,rawLower:q1RawLower,smoothCore:q1SmoothCore,smoothUpper:q1SmoothUpper,smoothMidUp:q1SmoothMidUp,smoothMidLo:q1SmoothMidLo,smoothLower:q1SmoothLower,tailRawHi:q1TailRawHi,tailRawLo:q1TailRawLo,tailSmoothHi:q1TailSmoothHi,tailSmoothLo:q1TailSmoothLo,endRaw:q1EndRaw,endSmooth:q1EndSmooth,onset:q1OnsetSpike,endSpike:q1EndSpike,upperWidth:3.6,lowerWidth:4.6,smoothWidth:3.6});
drawPanel('q2', q2YTicks, {startRawHi:q2StartRawHi,startRawLo:q2StartRawLo,startSmoothHi:q2StartSmoothHi,startSmoothLo:q2StartSmoothLo,rawCore:q2RawCore,rawUpper:q2RawUpper,rawMidUp:q2RawMidUp,rawLower:q2RawLower,smoothCore:q2SmoothCore,smoothUpper:q2SmoothUpper,smoothMidUp:q2SmoothMidUp,smoothMidLo:q2SmoothMidLo,smoothLower:q2SmoothLower,tailRawHi:q2TailRawHi,tailRawLo:q2TailRawLo,tailSmoothHi:q2TailSmoothHi,tailSmoothLo:q2TailSmoothLo,endRaw:q2EndRaw,endSmooth:q2EndSmooth,onset:q2OnsetSpike,endSpike:q2EndSpike,extraIndex:q2ExtraSpikeIndex,extraLow:q2ExtraSpikeLow,extraTop:-50,upperWidth:3.6,lowerWidth:null,smoothWidth:4.4});
drawPanel('q3', q3YTicks, {startRawHi:q3StartRawHi,startRawLo:q3StartRawLo,startSmoothHi:q3StartSmoothHi,startSmoothLo:q3StartSmoothLo,rawCore:q3RawCore,rawUpper:q3RawUpper,rawMidLo:q3RawMidLo,rawLower:q3RawLower,smoothCore:q3SmoothCore,smoothUpper:q3SmoothUpper,smoothMidUp:q3SmoothMidUp,smoothMidLo:q3SmoothMidLo,smoothLower:q3SmoothLower,tailRawHi:q3TailRawHi,tailRawLo:q3TailRawLo,tailSmoothHi:q3TailSmoothHi,tailSmoothLo:q3TailSmoothLo,endRaw:q3EndRaw,endSmooth:q3EndSmooth,onset:q3OnsetSpike,endSpike:q3EndSpike,extraIndex:q3ExtraSpikeIndex,extraLow:q3ExtraSpikeLow,extraTop:22,upperWidth:3.6,lowerWidth:4.4,smoothWidth:3.4});
</script>
</body>
</html>
